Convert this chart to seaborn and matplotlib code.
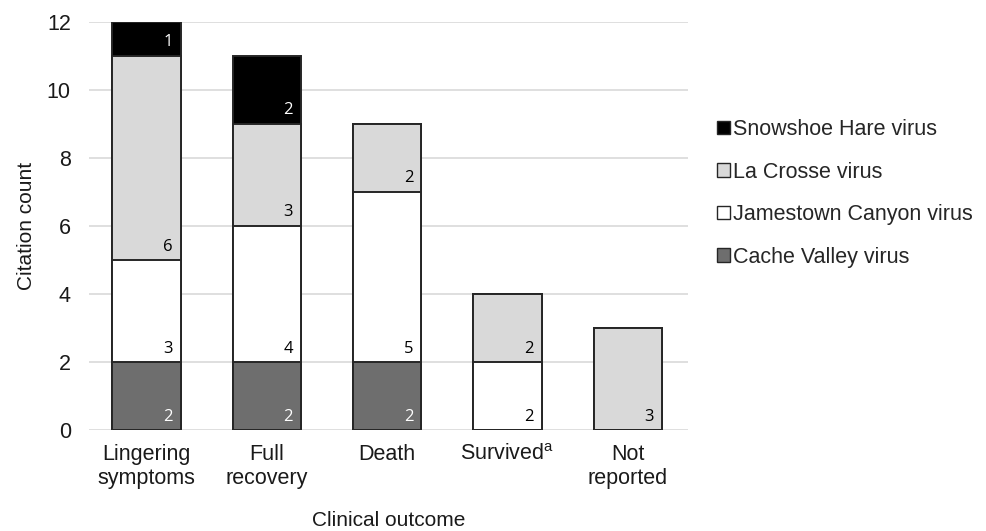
import matplotlib
matplotlib.use('Agg')
import numpy as np
import pandas as pd
import matplotlib.pyplot as plt
import seaborn as sns
from matplotlib.patches import Patch

outcomes = ['Lingering\nsymptoms', 'Full\nrecovery', 'Death', 'Survived$^{\\mathregular{a}}$', 'Not\nreported']
viruses = ['Cache Valley virus', 'Jamestown Canyon virus', 'La Crosse virus', 'Snowshoe Hare virus']
cache_valley = [2, 2, 2, 0, 0]
jamestown = [3, 4, 5, 2, 0]
la_crosse = [6, 3, 2, 2, 3]
snowshoe = [1, 2, 0, 0, 0]
colors = ['#6e6e6e', '#ffffff', '#d9d9d9', '#000000']
text_colors = ['white', 'black', 'black', 'white']

sns.set_style('white')
plt.rcParams['font.family'] = ['Liberation Sans', 'DejaVu Sans']

series = [cache_valley, jamestown, la_crosse, snowshoe]
cum = np.cumsum(np.array(series), axis=0)

fig = plt.figure(figsize=(9.87, 5.31), dpi=100)
ax = fig.add_axes([0.09, 0.19, 0.607, 0.7686])

# draw cumulative bars from top layer down so lower segments overlap
for i in range(len(series) - 1, -1, -1):
    df = pd.DataFrame({'outcome': outcomes, 'total': cum[i]})
    sns.barplot(data=df, x='outcome', y='total', color=colors[i], ax=ax,
                width=0.57, edgecolor='#262626', linewidth=1.4, saturation=1, zorder=3)

# segment labels at bottom right
for i, vals in enumerate(series):
    for j, v in enumerate(vals):
        if v > 0:
            base = cum[i][j] - v
            ax.annotate(str(v), xy=(j + 0.285, base), xytext=(-6, 4),
                        textcoords='offset points', ha='right', va='bottom',
                        fontsize=12, color=text_colors[i], zorder=5,
                        family=['Open Sans', 'DejaVu Sans'])

ax.set_ylim(0, 12)
ax.set_xlim(-0.48, 4.5)
ax.set_yticks(range(0, 13, 2))
ax.yaxis.grid(True, color='#d9d9d9', linewidth=1.2, zorder=0)
ax.set_axisbelow(True)
for s in ax.spines.values():
    s.set_visible(False)
ax.tick_params(axis='both', length=0, labelsize=15.5, colors='#1a1a1a')
ax.tick_params(axis='y', pad=13)
ax.tick_params(axis='x', pad=10)
ax.set_ylabel('Citation count', fontsize=15, color='#1a1a1a', labelpad=8)
ax.set_xlabel('Clinical outcome', fontsize=15, color='#1a1a1a', labelpad=16)
for lbl in ax.get_xticklabels():
    lbl.set_verticalalignment('top')
    lbl.set_linespacing(1.2)

handles = [Patch(facecolor=colors[i], edgecolor='#262626', linewidth=1.0, label=viruses[i])
           for i in range(len(viruses) - 1, -1, -1)]
fig.legend(handles=handles, loc='upper left', bbox_to_anchor=(0.718, 0.792), frameon=False,
           fontsize=15.5, handlelength=0.6, handleheight=0.6, handletextpad=0.15,
           labelspacing=1.0, borderaxespad=0)

fig.savefig('out.png', dpi=100)
